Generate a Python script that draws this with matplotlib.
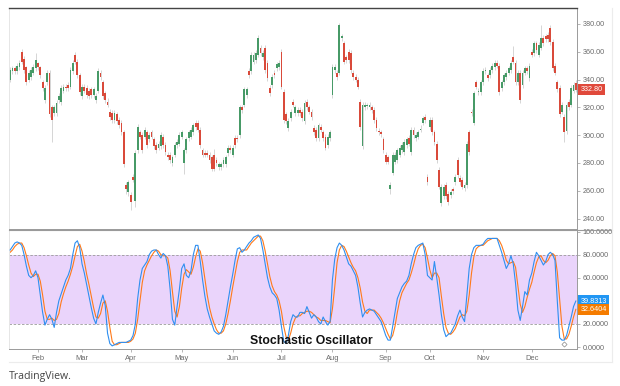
"""
:synopsis: Daily candlestick chart with a slow stochastic oscillator panel.
"""

# third party imports
from matplotlib import pyplot
from matplotlib.lines import Line2D
import numpy

# daily candles, mid January to the end of December
opens = [
    340, 346, 348, 346, 349, 360, 355, 349, 340, 342,
    345, 348, 352, 349, 338, 325, 338, 345, 320, 316,
    316, 325, 324, 332, 335, 336, 335, 346, 358, 353,
    343, 328, 335, 334, 332, 333, 329, 325, 332, 345,
    338, 330, 324, 317, 316, 311, 315, 311, 309, 302,
    264, 259, 257, 270, 253, 289, 302, 300, 299, 302,
    297, 302, 297, 293, 291, 292, 299, 293, 286, 286,
    280, 286, 293, 294, 299, 280, 289, 298, 299, 302,
    309, 309, 304, 289, 287, 287, 286, 284, 286, 282,
    277, 277, 279, 279, 287, 291, 286, 298, 298, 300,
    320, 322, 329, 346, 346, 353, 354, 358, 363, 356,
    363, 352, 334, 336, 345, 348, 349, 360, 331, 315,
    305, 312, 324, 316, 316, 318, 317, 310, 324, 320,
    317, 305, 304, 298, 306, 302, 299, 293, 298, 329,
    347, 345, 345, 370, 366, 356, 360, 359, 345, 342,
    340, 324, 292, 320, 321, 320, 320, 318, 311, 303,
    302, 297, 286, 284, 261, 273, 281, 282, 286, 289,
    288, 293, 298, 288, 304, 298, 299, 304, 309, 313,
    270, 306, 311, 302, 294, 275, 251, 256, 264, 258,
    257, 261, 266, 282, 269, 268, 262, 264, 302, 317,
    309, 338, 331, 331, 338, 346, 343, 343, 347, 349,
    352, 350, 334, 338, 342, 345, 347, 356, 352, 338,
    345, 336, 345, 348, 341, 360, 359, 366, 358, 363,
    370, 371, 372, 377, 367, 350, 338, 334, 317, 313,
    303, 324, 322, 332, 337.6]
closes = [
    347, 348, 346, 350, 352, 353, 347, 338, 345, 347,
    349, 354, 349, 343, 334, 334, 345, 315, 311, 320,
    323, 328, 334, 335, 334, 334, 347, 352, 353, 343,
    331, 335, 332, 329, 328, 329, 333, 328, 346, 342,
    328, 325, 322, 313, 311, 316, 310, 307, 302, 279,
    261, 266, 252, 268, 287, 306, 299, 289, 304, 293,
    300, 299, 292, 289, 294, 300, 293, 288, 284, 282,
    284, 293, 295, 300, 302, 289, 297, 302, 304, 307,
    306, 304, 293, 286, 286, 286, 282, 276, 276, 280,
    279, 279, 282, 284, 291, 289, 291, 293, 297, 320,
    318, 333, 333, 343, 358, 358, 359, 370, 359, 359,
    347, 341, 330, 342, 343, 351, 352, 335, 311, 310,
    310, 317, 322, 320, 318, 316, 312, 323, 320, 317,
    313, 302, 298, 307, 304, 298, 291, 299, 302, 349,
    349, 342, 379, 371, 353, 354, 354, 347, 342, 340,
    335, 306, 322, 322, 321.5, 322, 318, 311, 305, 302,
    301, 289, 281, 281, 264, 286, 286, 289, 291, 293,
    295, 297, 294, 304, 300, 300, 302, 304.5, 312, 311,
    266, 311, 302, 295, 282, 263, 263, 263, 256, 252,
    259, 260, 270, 271, 266, 263, 264, 294, 288, 316,
    330, 335, 332, 338, 346, 347, 341, 347, 350, 352,
    350, 331, 338, 343, 345, 348, 352, 353, 338, 345,
    325, 345, 348, 346, 350, 358, 366, 361, 365, 370,
    366, 369, 369, 367, 348, 345, 333, 315, 322, 302,
    322, 320, 334, 336, 332.8]
highs = [
    349, 350, 350, 352, 354, 362, 357, 350, 347, 349,
    351, 359, 353, 350, 340, 336, 347, 347, 322, 322,
    325, 330, 336, 337, 337, 338, 349, 354, 360, 355,
    345, 337, 337, 336, 334, 335, 335, 330, 348, 347,
    340, 332, 327, 319, 318, 318, 317, 313, 311, 304,
    266, 268, 259, 272, 289, 308, 304, 302, 306, 304,
    302, 304, 299, 295, 296, 302, 301, 295, 288, 288,
    286, 295, 297, 302, 304, 291, 299, 304, 306, 309,
    311, 311, 306, 291, 289, 289, 288, 286, 290, 284,
    281, 281, 284, 286, 293, 293, 293, 300, 300, 322,
    322, 335, 335, 348, 360, 360, 361, 372, 365, 361,
    365, 354, 336, 344, 347, 353, 354, 362, 333, 317,
    312, 319, 326, 322, 320, 320, 319, 325, 326, 322,
    319, 307, 306, 309, 308, 304, 301, 301, 304, 351,
    351, 347, 381, 373, 368, 358, 362, 361, 347, 344,
    342, 326, 324, 324, 323, 324, 322, 320, 313, 305,
    304, 299, 288, 286, 266, 288, 288, 291, 293, 295,
    297, 299, 300, 306, 306, 302, 304, 307, 314, 315,
    272, 313, 313, 304, 296, 277, 265, 265, 266, 260,
    261, 263, 272, 284, 271, 270, 266, 296, 304, 319,
    332, 340, 334, 340, 348, 349, 345, 349, 352, 354,
    354, 352, 340, 345, 347, 350, 354, 364, 354, 347,
    347, 347, 350, 350, 352, 362, 368, 368, 367, 379,
    372, 373, 374, 379, 369, 352, 340, 336, 324, 315,
    324, 326, 336, 338, 340]
lows = [
    338, 344, 344, 344, 347, 351, 345, 336, 338, 340,
    343, 346, 347, 341, 332, 323, 336, 313, 295, 314,
    314, 323, 322, 330, 332, 332, 333, 344, 351, 341,
    329, 326, 330, 327, 326, 327, 327, 323, 330, 340,
    326, 323, 320, 311, 309, 309, 308, 305, 300, 277,
    258, 256, 246, 266, 248, 287, 297, 287, 297, 291,
    295, 297, 290, 287, 289, 290, 291, 286, 282, 280,
    278, 284, 291, 292, 297, 272, 287, 296, 297, 300,
    304, 302, 291, 284, 284, 284, 280, 274, 274, 278,
    275, 275, 277, 277, 285, 287, 284, 291, 295, 298,
    316, 320, 327, 341, 344, 351, 352, 356, 357, 354,
    345, 339, 328, 334, 341, 346, 347, 333, 309, 308,
    303, 310, 320, 314, 314, 314, 310, 308, 318, 315,
    311, 300, 296, 296, 302, 296, 289, 291, 296, 327,
    345, 340, 343, 368, 351, 352, 352, 345, 340, 338,
    333, 304, 290, 318, 319, 318, 316, 309, 303, 300,
    299, 287, 279, 279, 258, 271, 279, 280, 284, 287,
    286, 291, 292, 286, 298, 296, 297, 302, 307, 309,
    264, 304, 300, 293, 280, 261, 249, 254, 254, 250,
    255, 258, 264, 269, 264, 261, 260, 262, 286, 314,
    307, 333, 329, 329, 336, 344, 339, 341, 345, 347,
    348, 329, 332, 336, 340, 343, 345, 351, 336, 336,
    323, 334, 343, 344, 339, 356, 357, 359, 356, 361,
    364, 367, 367, 365, 346, 343, 331, 313, 315, 295,
    301, 318, 320, 330, 331]

# stochastic oscillator, %K (fast) and %D (signal)
stoch_k = [
    84, 87, 90, 91, 90, 88, 80, 70, 62, 60,
    62, 66, 60, 45, 30, 19, 24, 28, 24, 17,
    30, 40, 46, 52, 58, 62, 68, 80, 90, 92,
    86, 72, 64, 54, 44, 34, 25, 20, 30, 38,
    45, 36, 12, 3, 1, 2, 3, 4, 4, 4,
    4, 5, 6, 10, 20, 42, 58, 68, 71, 74,
    80, 83, 84, 84, 80, 77, 81, 79, 70, 50,
    24, 19, 35, 50, 68, 72, 62, 60, 66, 80,
    88, 88, 74, 58, 44, 33, 26, 20, 14, 12,
    11, 13, 18, 28, 40, 52, 63, 75, 85, 86,
    82, 84, 87, 90, 92, 95, 96, 97, 94, 84,
    72, 60, 52, 47, 45, 42, 32, 18, 5, 3,
    10, 22, 28, 26, 26, 30, 30, 29, 35, 30,
    25, 28, 26, 22, 20, 26, 22, 19, 22, 58,
    76, 86, 90, 88, 84, 78, 72, 70, 66, 62,
    52, 38, 26, 30, 32, 33, 32, 31, 28, 25,
    22, 16, 10, 6, 6, 18, 30, 42, 47, 52,
    55, 57, 62, 72, 80, 86, 88, 89, 90, 80,
    62, 60, 58, 74, 60, 45, 28, 15, 9, 11,
    12, 16, 20, 27, 32, 26, 22, 45, 68, 80,
    86, 88, 88, 88, 89, 92, 94, 94, 94, 94,
    94, 88, 82, 75, 68, 72, 79, 72, 55, 32,
    23, 35, 48, 45, 58, 64, 74, 82, 79, 75,
    71, 74, 80, 82, 80, 75, 40, 8, 6, 6,
    10, 18, 26, 35, 39.8313]
stoch_d = [
    82, 84, 87, 89, 90, 90, 86, 79, 71, 64,
    61, 63, 63, 57, 45, 31, 24, 24, 25, 23,
    24, 29, 39, 46, 52, 57, 63, 70, 79, 87,
    89, 83, 74, 63, 54, 44, 34, 26, 25, 29,
    38, 40, 31, 17, 5, 2, 2, 3, 4, 4,
    4, 4, 5, 7, 12, 24, 40, 56, 66, 71,
    75, 79, 82, 84, 83, 80, 79, 79, 77, 66,
    48, 31, 26, 35, 51, 63, 67, 65, 63, 69,
    78, 85, 83, 73, 59, 45, 34, 26, 20, 15,
    12, 12, 14, 20, 29, 40, 52, 63, 74, 82,
    84, 84, 84, 87, 90, 92, 94, 96, 96, 92,
    83, 72, 61, 53, 48, 45, 40, 31, 18, 9,
    6, 12, 20, 25, 27, 27, 29, 30, 31, 31,
    30, 28, 26, 25, 23, 23, 23, 22, 21, 33,
    52, 73, 84, 88, 87, 83, 78, 73, 69, 66,
    60, 51, 39, 31, 29, 32, 32, 32, 30, 28,
    25, 21, 16, 11, 7, 10, 18, 30, 40, 47,
    51, 55, 58, 64, 71, 79, 85, 88, 89, 86,
    77, 67, 60, 64, 64, 60, 44, 29, 17, 12,
    11, 13, 16, 21, 26, 28, 27, 31, 45, 64,
    78, 85, 87, 88, 88, 90, 92, 93, 94, 94,
    94, 92, 88, 82, 75, 72, 73, 74, 69, 53,
    37, 30, 35, 43, 50, 56, 65, 73, 78, 79,
    75, 73, 75, 79, 81, 79, 65, 41, 18, 7,
    7, 11, 18, 26, 32.6404]

# first trading day of each month, as candle index
month_days = [12, 31, 52, 74, 96, 117, 139, 162, 181, 204, 225]
month_labels = ['Feb', 'Mar', 'Apr', 'May', 'Jun', 'Jul', 'Aug', 'Sep',
                'Oct', 'Nov', 'Dec']
price_ticks = [240, 260, 280, 300, 320, 340, 360, 380]
osc_ticks = [0, 20, 60, 80, 100]
band_low, band_high = 20, 80
marker_day, marker_value = 239, 3

UP = '#479a67'
DOWN = '#d94a3a'
K_COLOR = '#2f8ff0'
D_COLOR = '#ff7a1a'
GRID = '#9a9a9a'
TEXT = '#6a6a6a'

pyplot.rcParams['font.family'] = ['Liberation Sans', 'DejaVu Sans']


def px(x, y):
    """Turn a pixel position (top left origin) into figure coordinates."""
    return x / 620, 1 - y / 386


def value_tag(ax, value, text, color):
    """Draw a coloured value box just right of the axes."""
    ax.annotate(text, xy=(1.0, value), xycoords=('axes fraction', 'data'),
                xytext=(2.5, 0), textcoords='offset points', va='center',
                ha='left', fontsize=5.2, color='white',
                bbox=dict(boxstyle='square,pad=0.3', fc=color, ec='none'))


def plot_candles(ax):
    """Draw the daily candles with thin grey wicks."""
    days = numpy.arange(len(closes))
    o = numpy.array(opens)
    c = numpy.array(closes)
    colors = numpy.where(c >= o, UP, DOWN)
    ax.vlines(days, lows, highs, color='#cfcfcf', linewidth=0.6, zorder=1)
    bottom = numpy.minimum(o, c)
    height = numpy.maximum(numpy.abs(c - o), 0.8)
    ax.bar(days, height, 0.78, bottom=bottom, color=colors, linewidth=0,
           zorder=2)

    ax.set_ylim(232.5, 391.5)
    ax.set_yticks(price_ticks)
    ax.set_yticklabels([f'{t:.2f}' for t in price_ticks])
    value_tag(ax, closes[-1], f'{closes[-1]:.2f}', '#e0493b')


def plot_oscillator(ax):
    """Draw %K and %D over the shaded 20-80 band."""
    days = numpy.arange(len(stoch_k))
    ax.axhspan(band_low, band_high, color='#ead4fb', zorder=0, linewidth=0)
    for level in (band_low, band_high):
        ax.axhline(level, color=GRID, linewidth=0.6, linestyle=(0, (3, 2)),
                   zorder=1)
    ax.plot(days, stoch_d, color=D_COLOR, linewidth=0.8, zorder=2)
    ax.plot(days, stoch_k, color=K_COLOR, linewidth=0.8, zorder=3)
    ax.plot(marker_day, marker_value, marker='D', markersize=2.6,
            markerfacecolor='white', markeredgecolor='#888888',
            markeredgewidth=0.5, zorder=4)

    ax.set_ylim(-1.7, 101.3)
    ax.set_yticks(osc_ticks)
    ax.set_yticklabels([f'{t:.4f}' for t in osc_ticks])
    ax.set_xticks(month_days)
    ax.set_xticklabels(month_labels)
    value_tag(ax, stoch_k[-1], f'{stoch_k[-1]:.4f}', '#2196f3')
    value_tag(ax, stoch_d[-1], f'{stoch_d[-1]:.4f}', '#f57c00')


def style_axes(ax):
    """Common TradingView-like frame and tick styling."""
    ax.set_xlim(-0.5, len(closes) - 0.5)
    ax.yaxis.tick_right()
    ax.tick_params(axis='y', length=2, width=0.5, color=GRID, pad=2,
                   labelsize=5.2, labelcolor=TEXT)
    ax.tick_params(axis='x', length=2, width=0.5, color=GRID, pad=2,
                   labelsize=5.4, labelcolor=TEXT)
    ax.spines['left'].set_color('#e6e6e6')
    ax.spines['right'].set_color(GRID)
    ax.spines['bottom'].set_color(GRID)
    for side in ('left', 'right', 'bottom', 'top'):
        ax.spines[side].set_linewidth(0.7)


fig = pyplot.figure(figsize=(6.2, 3.86), dpi=100)
ax_price = fig.add_axes([9 / 620, 1 - 229 / 386, 568 / 620, 221 / 386])
ax_osc = fig.add_axes([9 / 620, 1 - 349 / 386, 568 / 620, 119 / 386])

plot_candles(ax_price)
plot_oscillator(ax_osc)
style_axes(ax_price)
style_axes(ax_osc)

ax_price.spines['top'].set_color('#444444')
ax_price.spines['top'].set_linewidth(1.0)
ax_price.tick_params(axis='x', bottom=False, labelbottom=False)
ax_osc.spines['top'].set_visible(False)

# outer chart frame and panel separator reaching under the scale
fig.add_artist(Line2D([px(9, 0)[0], px(612, 0)[0]],
                      [px(0, 229.5)[1]] * 2, color=GRID, linewidth=0.8))
fig.add_artist(Line2D([px(612, 0)[0]] * 2, [px(0, 8)[1], px(0, 362)[1]],
                      color='#ececec', linewidth=0.8))
fig.add_artist(Line2D([px(9, 0)[0], px(612, 0)[0]], [px(0, 362)[1]] * 2,
                      color='#ececec', linewidth=0.8))

x, y = px(311, 341)
fig.text(x, y, 'Stochastic Oscillator', ha='center', va='center',
         fontsize=8.8, fontweight='bold', color='#111111')
x, y = px(9, 377)
fig.text(x, y, 'TradingView.', ha='left', va='center', fontsize=7.6,
         color='#444444', family=['Open Sans', 'DejaVu Sans'])

fig.savefig('out.png', dpi=100)
